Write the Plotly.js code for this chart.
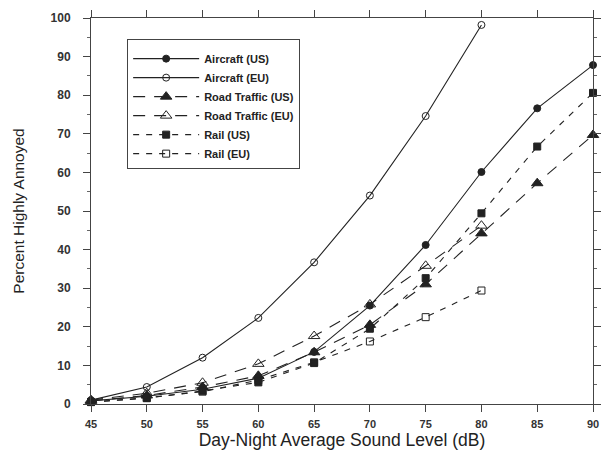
<!DOCTYPE html>
<html>
<head>
<meta charset="utf-8">
<script src="https://cdn.plot.ly/plotly-3.0.1.min.js"></script>
<style>html,body{margin:0;padding:0;background:#fff;}#chart{width:604px;height:450px;}</style>
</head>
<body>
<div id="chart"></div>
<script>
const levels = [45, 50, 55, 60, 65, 70, 75, 80, 85, 90];
const levelsEU = [45, 50, 55, 60, 65, 70, 75, 80];
const aircraftUS = [0.8, 2, 3.8, 6.7, 13.5, 25.5, 41.2, 60.1, 76.6, 87.8];
const aircraftEU = [1, 4.4, 12, 22.3, 36.7, 54, 74.6, 98.2];
const roadUS = [0.8, 2.2, 4.4, 7.3, 13.4, 20.5, 31, 44.2, 57.2, 69.7];
const roadEU = [1, 2.8, 5.5, 10.4, 17.6, 25.8, 35.8, 46.2];
const railUS = [0.5, 1.5, 3.4, 5.6, 10.6, 19.5, 32.6, 49.4, 66.7, 80.6];
const railEU = [0.5, 1.6, 3.2, 6.2, 10.8, 16.2, 22.5, 29.4];
const xTicks = [45, 50, 55, 60, 65, 70, 75, 80, 85, 90];

const ink = '#222';
function tr(name, x, y, dash, symbol, size) {
  return {
    x: x, y: y, name: name, type: 'scatter', mode: 'lines+markers',
    cliponaxis: false,
    line: {color: ink, width: 1.1, dash: dash},
    marker: {symbol: symbol, size: size, color: ink, line: {color: ink, width: 1}}
  };
}
const data = [
  tr('Aircraft (US)', levels, aircraftUS, 'solid', 'circle', 7),
  tr('Aircraft (EU)', levelsEU, aircraftEU, 'solid', 'circle-open', 7),
  tr('Road Traffic (US)', levels, roadUS, '12px,9px', 'triangle-up', 10),
  tr('Road Traffic (EU)', levelsEU, roadEU, '12px,9px', 'triangle-up-open', 10),
  tr('Rail (US)', levels, railUS, '6px,7px', 'square', 7),
  tr('Rail (EU)', levelsEU, railEU, '6px,7px', 'square-open', 7)
];
const layout = {
  width: 604, height: 450,
  margin: {l: 91, r: 11, t: 18, b: 46},
  paper_bgcolor: '#fff', plot_bgcolor: '#fff',
  font: {family: 'Liberation Sans, Arial, sans-serif', color: '#333'},
  showlegend: true,
  legend: {
    x: 0.072, y: 0.945, xanchor: 'left', yanchor: 'top',
    bordercolor: '#444', borderwidth: 1, bgcolor: '#fff',
    font: {size: 11, color: '#222', weight: 'bold'},
    title: {text: ' ', font: {size: 3}},
    tracegroupgap: 0, itemwidth: 66
  },
  xaxis: {
    range: [45, 90], tickvals: xTicks, ticks: 'outside', ticklen: 7,
    tickcolor: '#444', showline: true, linecolor: '#444', linewidth: 1,
    mirror: 'allticks', showgrid: false, zeroline: false,
    ticklabelstandoff: 3,
    tickfont: {size: 11, color: '#333', weight: 'bold'},
    title: {text: 'Day-Night Average Sound Level (dB)', font: {size: 17.5, color: '#222'}, standoff: 5}
  },
  yaxis: {
    range: [0, 100], dtick: 10, ticks: 'outside', ticklen: 7,
    tickcolor: '#444', showline: true, linecolor: '#444', linewidth: 1,
    mirror: 'allticks', showgrid: false, zeroline: false,
    ticklabelstandoff: 10,
    minor: {dtick: 5, ticks: 'outside', ticklen: 3, tickcolor: '#666', showgrid: false},
    tickfont: {size: 12, color: '#333', weight: 'bold'},
    title: {text: 'Percent Highly Annoyed', font: {size: 15.5, color: '#222'}, standoff: 22}
  }
};
Plotly.newPlot('chart', data, layout, {displayModeBar: false, staticPlot: true});
</script>
</body>
</html>
